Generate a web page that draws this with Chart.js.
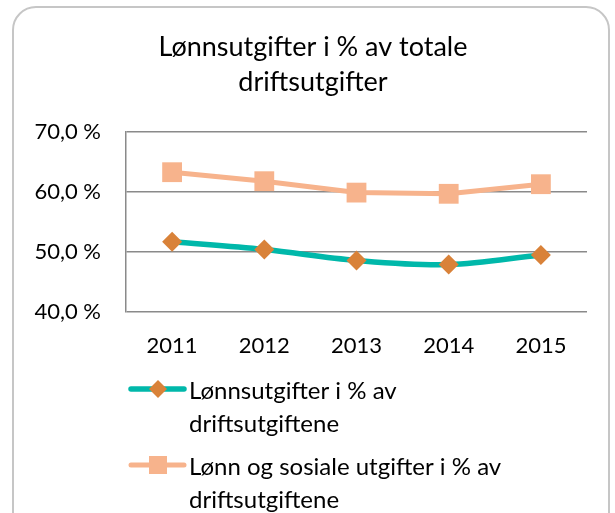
<!DOCTYPE html>
<html>
<head>
<meta charset="utf-8">
<script src="https://cdn.jsdelivr.net/npm/chart.js@4/dist/chart.umd.min.js"></script>
<style>
  html, body { margin: 0; padding: 0; background: #fff; }
  #wrap { position: relative; width: 615px; height: 513px; overflow: hidden; }
  #frame { position: absolute; left: 12px; top: 6px; width: 598px; height: 540px;
           border: 2px solid #c6c6c6; border-radius: 24px; box-sizing: border-box; }
  canvas { position: absolute; left: 0; top: 0; }
</style>
</head>
<body>
<div id="wrap">
  <div id="frame"></div>
  <canvas id="c" width="615" height="513"></canvas>
</div>
<script>
const years = ['2011', '2012', '2013', '2014', '2015'];
const lonnPct = [51.7, 50.4, 48.6, 47.9, 49.5];
const lonnSosPct = [63.3, 61.8, 59.9, 59.7, 61.3];
const titleLines = ['Lønnsutgifter i % av totale', 'driftsutgifter'];
const legendLonn = ['Lønnsutgifter i % av', 'driftsutgiftene'];
const legendLonnSos = ['Lønn og sosiale utgifter i % av', 'driftsutgiftene'];
const yMin = 40, yMax = 70, yStep = 10;

const FONT = 'Lato, "Open Sans", sans-serif';

const titlePlugin = {
  id: 'customTitle',
  afterDraw(chart) {
    const ctx = chart.ctx;
    ctx.save();
    ctx.fillStyle = '#000';
    ctx.font = '27px ' + FONT;
    ctx.textAlign = 'center';
    ctx.textBaseline = 'middle';
    titleLines.forEach((ln, i) => ctx.fillText(ln, 313, 47 + i * 35));
    ctx.restore();
  }
};

const legendPlugin = {
  id: 'customLegend',
  afterDraw(chart) {
    const ctx = chart.ctx;
    const items = [
      { ds: chart.data.datasets[0], lines: legendLonn, y: 389 },
      { ds: chart.data.datasets[1], lines: legendLonnSos, y: 465 }
    ];
    ctx.save();
    items.forEach(it => {
      const ds = it.ds;
      ctx.strokeStyle = ds.borderColor;
      ctx.lineWidth = ds.borderWidth;
      ctx.lineCap = 'round';
      ctx.beginPath();
      ctx.moveTo(131, it.y);
      ctx.lineTo(184, it.y);
      ctx.stroke();
      ctx.fillStyle = ds.pointBackgroundColor;
      const cx = 158, cy = it.y;
      if (ds.pointStyle === 'rectRot') {
        const r = 9;
        ctx.beginPath();
        ctx.moveTo(cx, cy - r); ctx.lineTo(cx + r, cy); ctx.lineTo(cx, cy + r); ctx.lineTo(cx - r, cy);
        ctx.closePath(); ctx.fill();
      } else {
        const s = 9;
        ctx.fillRect(cx - s, cy - s, 2 * s, 2 * s);
      }
      ctx.fillStyle = '#000';
      ctx.font = '24px ' + FONT;
      ctx.textBaseline = 'middle';
      ctx.textAlign = 'left';
      it.lines.forEach((ln, i) => ctx.fillText(ln, 189, it.y + 2 + i * 33));
    });
    ctx.restore();
  }
};

new Chart(document.getElementById('c'), {
  type: 'line',
  data: {
    labels: years,
    datasets: [
      {
        label: legendLonn.join(' '),
        data: lonnPct,
        borderColor: '#00b8aa',
        borderWidth: 5.5,
        tension: 0.35,
        pointStyle: 'rectRot',
        pointRadius: 10,
        pointHoverRadius: 10,
        pointBackgroundColor: '#d98239',
        pointBorderColor: '#d98239',
        pointBorderWidth: 0
      },
      {
        label: legendLonnSos.join(' '),
        data: lonnSosPct,
        borderColor: '#f7b38c',
        borderWidth: 5,
        tension: 0,
        pointStyle: 'rect',
        pointRadius: 14,
        pointHoverRadius: 14,
        pointBackgroundColor: '#f7b38c',
        pointBorderColor: '#f7b38c',
        pointBorderWidth: 0
      }
    ]
  },
  options: {
    responsive: false,
    animation: false,
    layout: { padding: { left: 0, right: 28, top: 132, bottom: 150 } },
    plugins: {
      legend: { display: false },
      tooltip: { enabled: false },
      title: { display: false }
    },
    scales: {
      x: {
        grid: { display: false, drawTicks: false },
        border: { display: false },
        offset: true,
        ticks: { color: '#000', font: { family: FONT, size: 22 }, padding: 21 },
        afterFit(scale) { scale.height = 51; }
      },
      y: {
        min: yMin,
        max: yMax,
        grid: { color: '#8a8a8a', lineWidth: 1.5, drawTicks: false },
        border: { display: true, color: '#8a8a8a', width: 1.5 },
        ticks: {
          stepSize: yStep,
          color: '#000',
          font: { family: FONT, size: 22 },
          padding: 25,
          callback: v => v.toFixed(1).replace('.', ',') + ' %'
        },
        afterFit(scale) { scale.width = 126; }
      }
    }
  },
  plugins: [titlePlugin, legendPlugin]
});
</script>
</body>
</html>
